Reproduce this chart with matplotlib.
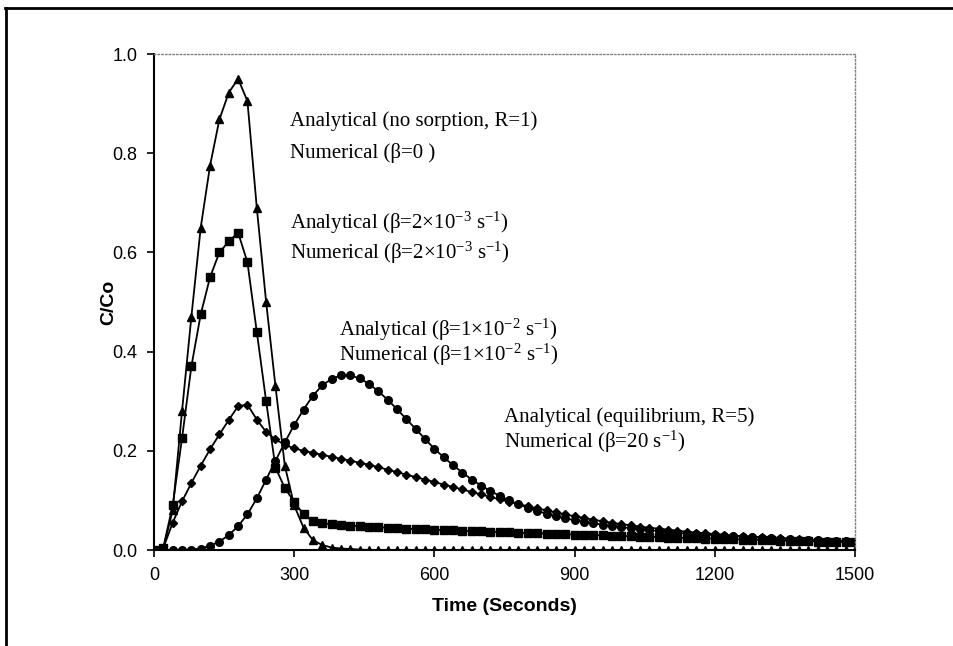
import numpy as np
import matplotlib
matplotlib.use("Agg")
import matplotlib.pyplot as plt
from matplotlib.lines import Line2D

plt.rcParams['font.family'] = ['Liberation Sans', 'DejaVu Sans']
plt.rcParams['mathtext.fontset'] = 'custom'
plt.rcParams['mathtext.rm'] = 'Liberation Serif'
plt.rcParams['mathtext.it'] = 'Liberation Serif:italic'

# breakthrough curves, C/Co sampled every 20 s
time_s = np.arange(0, 1501, 20)

no_sorption = [
    0.0, 0.003, 0.08, 0.28, 0.47, 0.65, 0.775, 0.868, 0.922, 0.95,
    0.905, 0.69, 0.50, 0.33, 0.17, 0.09, 0.045, 0.02, 0.01, 0.005,
    0.003, 0.002, 0.001, 0.0, 0.0, 0.0, 0.0, 0.0, 0.0, 0.0,
    0.0, 0.0, 0.0, 0.0, 0.0, 0.0, 0.0, 0.0, 0.0, 0.0,
    0.0, 0.0, 0.0, 0.0, 0.0, 0.0, 0.0, 0.0, 0.0, 0.0,
    0.0, 0.0, 0.0, 0.0, 0.0, 0.0, 0.0, 0.0, 0.0, 0.0,
    0.0, 0.0, 0.0, 0.0, 0.0, 0.0, 0.0, 0.0, 0.0, 0.0,
    0.0, 0.0, 0.0, 0.0, 0.0, 0.0,
]

beta_2e3 = [
    0.0, 0.005, 0.09, 0.225, 0.37, 0.475, 0.55, 0.60, 0.622, 0.64,
    0.58, 0.44, 0.30, 0.166, 0.125, 0.097, 0.072, 0.058, 0.054, 0.052,
    0.050, 0.049, 0.048, 0.047, 0.046, 0.045, 0.044, 0.043, 0.042, 0.042,
    0.041, 0.040, 0.040, 0.039, 0.038, 0.038, 0.037, 0.036, 0.036, 0.035,
    0.034, 0.034, 0.033, 0.032, 0.032, 0.031, 0.031, 0.030, 0.030, 0.029,
    0.028, 0.028, 0.027, 0.027, 0.026, 0.025, 0.025, 0.024, 0.024, 0.023,
    0.023, 0.022, 0.022, 0.021, 0.021, 0.020, 0.020, 0.019, 0.019, 0.018,
    0.018, 0.017, 0.017, 0.017, 0.016, 0.016,
]

beta_1e2 = [
    0.0, 0.004, 0.055, 0.098, 0.135, 0.17, 0.203, 0.233, 0.262, 0.29,
    0.293, 0.263, 0.238, 0.223, 0.212, 0.205, 0.200, 0.196, 0.192, 0.188,
    0.184, 0.180, 0.176, 0.172, 0.167, 0.162, 0.157, 0.152, 0.147, 0.142,
    0.137, 0.132, 0.127, 0.122, 0.117, 0.112, 0.107, 0.102, 0.097, 0.093,
    0.088, 0.084, 0.080, 0.076, 0.072, 0.068, 0.065, 0.061, 0.058, 0.055,
    0.052, 0.050, 0.047, 0.045, 0.043, 0.041, 0.039, 0.037, 0.035, 0.034,
    0.032, 0.031, 0.029, 0.028, 0.027, 0.026, 0.025, 0.024, 0.023, 0.022,
    0.021, 0.020, 0.019, 0.018, 0.017, 0.016,
]

equilibrium = [
    0.0, 0.0, 0.0, 0.0, 0.001, 0.003, 0.009, 0.017, 0.03, 0.048,
    0.072, 0.104, 0.142, 0.18, 0.217, 0.252, 0.283, 0.311, 0.332, 0.345,
    0.352, 0.352, 0.346, 0.335, 0.32, 0.303, 0.284, 0.264, 0.244, 0.224,
    0.204, 0.187, 0.171, 0.156, 0.142, 0.130, 0.119, 0.109, 0.100, 0.092,
    0.085, 0.079, 0.073, 0.068, 0.064, 0.060, 0.057, 0.054, 0.051, 0.048,
    0.046, 0.044, 0.042, 0.040, 0.038, 0.036, 0.035, 0.033, 0.032, 0.031,
    0.030, 0.029, 0.028, 0.027, 0.026, 0.025, 0.024, 0.023, 0.022, 0.021,
    0.020, 0.020, 0.019, 0.018, 0.018, 0.017,
]

series = [
    (no_sorption, '^', 5.5),
    (beta_2e3, 's', 5.5),
    (beta_1e2, 'D', 4.5),
    (equilibrium, 'o', 5.5),
]

labels = [
    ("Analytical (no sorption, R=1)", "Numerical (β=0 )", 292, 0.865, 0.800),
    ("Analytical (β=2×10$^{-3}$ s$^{-1}$)", "Numerical (β=2×10$^{-3}$ s$^{-1}$)", 292, 0.659, 0.600),
    ("Analytical (β=1×10$^{-2}$ s$^{-1}$)", "Numerical (β=1×10$^{-2}$ s$^{-1}$)", 395, 0.444, 0.393),
    ("Analytical (equilibrium, R=5)", "Numerical (β=20 s$^{-1}$)", 750, 0.268, 0.218),
]

fig = plt.figure(figsize=(9.54, 6.46), dpi=100)
ax = fig.add_axes([0.1614, 0.1486, 0.7348, 0.7678])

for vals, mk, ms in series:
    # analytical solution as a line, numerical results as markers
    ax.plot(time_s, vals, color='black', lw=1.3)
    ax.plot(time_s, vals, linestyle='none', marker=mk, ms=ms, color='black')

for top, bottom, x0, y1, y2 in labels:
    ax.text(x0, y1, top, fontsize=15, family='Liberation Serif', va='center')
    ax.text(x0, y2, bottom, fontsize=15, family='Liberation Serif', va='center')

ax.set_xlim(0, 1500)
ax.set_ylim(0, 1.0)
ax.set_xticks([0, 300, 600, 900, 1200, 1500])
ax.set_yticks([0.0, 0.2, 0.4, 0.6, 0.8, 1.0])
ax.set_yticklabels(["0.0", "0.2", "0.4", "0.6", "0.8", "1.0"])
ax.tick_params(direction='out', length=5, width=1.2, labelsize=13, pad=7)

ax.set_xlabel("Time (Seconds)", fontsize=14, fontweight='bold', labelpad=10)
ax.set_ylabel("C/Co", fontsize=14, fontweight='bold')
ax.yaxis.set_label_coords(-0.052, 0.5)

ax.spines['left'].set_linewidth(1.5)
ax.spines['bottom'].set_linewidth(1.5)
for side in ['top', 'right']:
    ax.spines[side].set_linestyle(':')
    ax.spines[side].set_color('gray')
    ax.spines[side].set_linewidth(1.0)

# frame around the figure (top and left edge only)
fig.add_artist(Line2D([5 / 954, 1.0], [1 - 8 / 646, 1 - 8 / 646], color='black', lw=2))
fig.add_artist(Line2D([6 / 954, 6 / 954], [0.0, 1 - 8 / 646], color='black', lw=2))

fig.savefig("out.png", dpi=100)
